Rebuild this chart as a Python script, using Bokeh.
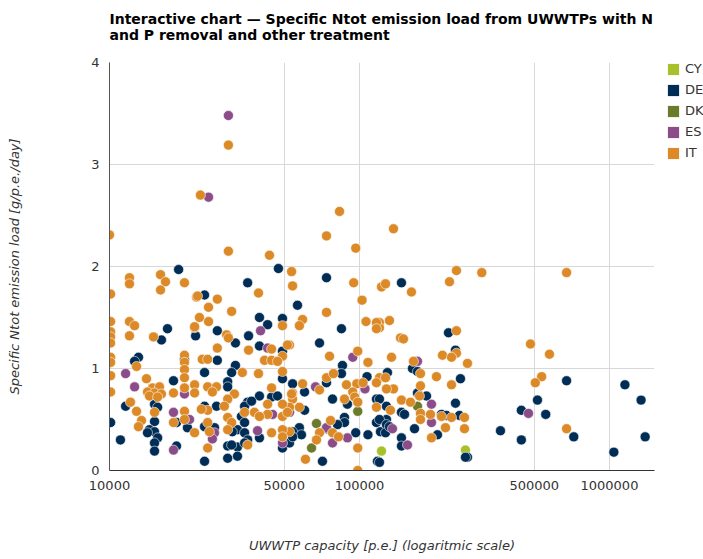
from bokeh.plotting import figure
from bokeh.models import FixedTicker, NumeralTickFormatter, Range1d, Legend, LegendItem, Title
from bokeh.embed import file_html
from bokeh.resources import INLINE

# ---------------- data ----------------
countries = ["CY", "DE", "DK", "ES", "IT"]
country_colors = ["#a8c02c", "#002d55", "#6b7a2b", "#8a4d89", "#dc8a28"]

x_ticks = [10000, 50000, 100000, 500000, 1000000]
y_ticks = [0, 1, 2, 3, 4]

cy_capacity = [122500, 265400]
cy_load = [0.19, 0.20]

dk_capacity = [98400, 67300, 64300, 170600]
dk_load = [0.58, 0.46, 0.22, 0.63]

es_capacity = [29900, 24900, 40200, 42900, 11600, 12600, 19950, 18030, 20900, 18030,
               44900, 26300, 25800, 39100, 49200, 52500, 66700, 94000, 105200, 73800,
               78000, 89500, 170600, 194100, 194100, 135500, 155600, 474200]
es_load = [3.48, 2.68, 1.37, 1.20, 0.95, 0.82, 0.75, 0.57, 0.50, 0.20,
           0.55, 0.37, 0.31, 0.39, 0.27, 0.57, 0.82, 1.11, 0.80, 0.42,
           0.27, 0.32, 1.07, 0.65, 0.47, 0.41, 0.25, 0.56]

de_capacity = [18900, 47400, 73800, 35700, 147200, 56500, 24000, 39800, 42900, 49200,
               27000, 31900, 36000, 39800, 49200, 27000, 31900, 30800, 24000, 49200,
               29700, 29700, 39800, 44500, 47000, 35700, 34700, 37000, 26800, 24000,
               33700, 34700, 32500, 24000, 26300, 31000, 34700, 35700, 39800, 49200,
               29700, 32500, 30800, 34700, 29700, 32500, 24000,
               17060, 16140, 22100, 13060, 12600, 19950, 18030, 11600, 15140, 15580,
               18540, 10100, 15140, 14450, 15140, 14190, 20500, 15580, 15140, 15140,
               18540, 11060,
               84700, 69200, 85500, 84700, 73800, 54000, 107200, 60300, 78000, 89500,
               116900, 128200, 60300, 87100, 87100, 81700, 73800, 57500, 54000, 58600,
               96600, 108100, 116900, 121300, 128200, 71100, 118000, 52500, 54000,
               227000, 242100, 162900, 170600, 129400, 253500, 673600, 1153000, 1338000, 515200,
               444100, 555900, 366400, 444100, 719800, 1389000, 1041000, 270400, 265400, 120200,
               170600, 185400, 242100, 147200, 151400, 212800, 222900, 251200, 205100, 120200,
               128200, 127100, 166000, 147200, 147200, 120200, 131800]
de_load = [1.97, 1.98, 1.89, 1.84, 1.84, 1.62, 1.72, 1.50, 1.43, 1.49,
           1.37, 1.25, 1.32, 1.22, 1.17, 1.08, 1.03, 0.96, 0.96, 0.90,
           0.87, 0.82, 0.73, 0.72, 0.73, 0.67, 0.63, 0.68, 0.63, 0.63,
           0.53, 0.47, 0.40, 0.43, 0.42, 0.38, 0.37, 0.30, 0.32, 0.22,
           0.24, 0.23, 0.25, 0.27, 0.12, 0.14, 0.09,
           1.39, 1.28, 1.32, 1.11, 1.07, 1.09, 0.88, 0.63, 0.65, 0.62,
           0.47, 0.47, 0.48, 0.40, 0.38, 0.37, 0.42, 0.32, 0.27, 0.19,
           0.24, 0.30,
           1.39, 1.25, 1.03, 0.95, 0.86, 0.85, 0.92, 0.77, 0.70, 0.65,
           0.70, 0.63, 0.59, 0.52, 0.47, 0.45, 0.41, 0.42, 0.38, 0.35,
           0.37, 0.35, 0.47, 0.38, 0.50, 0.09, 0.09, 0.27, 0.33,
           1.35, 1.18, 1.00, 0.97, 0.96, 0.90, 0.88, 0.84, 0.69, 0.69,
           0.59, 0.55, 0.39, 0.30, 0.33, 0.33, 0.18, 0.13, 0.13, 0.08,
           0.76, 0.73, 0.66, 0.57, 0.55, 0.55, 0.54, 0.54, 0.35, 0.50,
           0.45, 0.37, 0.41, 0.32, 0.24, 0.70, 0.43]

it_capacity = [29900, 23100, 10000, 29900, 73800, 83200, 96600, 136800, 43650, 53500,
               16000, 16750, 16000, 12020, 12020, 19950, 10100, 22300, 54000, 94800,
               122500, 127100, 102400, 39450, 244300, 308500, 673600, 229100, 161400, 131800,
               120200, 120200, 244300, 145900, 150000, 244300, 214800, 233400, 270400, 134300,
               164400, 483100, 575400, 535400, 505000, 673600, 233400, 203200, 120200, 127100,
               175400, 175400, 173800, 136800, 128200, 147200, 159900, 133000, 175400, 175400,
               192300, 212800, 233400, 263000, 220800, 263000, 194100,
               59200, 57500, 106200, 116900, 116900, 73800, 52500, 75900, 98400, 108100,
               73800, 78700, 59200, 69200, 88700, 97500, 103300, 116900, 54000, 54000,
               94000, 87100, 95700, 98400, 116900, 57500, 52500, 76600, 52500, 69200,
               67300, 78000, 82400, 60800, 98400, 98400,
               22500, 27000, 24900, 30800, 22900, 24900, 49200, 21900, 29400, 29900,
               36000, 44500, 51500, 27000, 49200, 23500, 24700, 41700, 44500, 47000,
               34000, 39450, 49200, 21900, 21900, 24700, 26800, 25800, 31600, 29700,
               28800, 44500, 53500, 24700, 23300, 42900, 42900, 49200, 49200, 51500,
               34700, 38000, 39800, 29700, 30800, 29700, 24700, 25100, 44500, 49200,
               49200, 35700, 24700,
               10100, 10100, 10100, 10100, 12020, 12600, 12020, 15000, 21900, 10100,
               10100, 10100, 10100, 12830, 19950, 19950, 19950, 19950, 19950, 14060,
               14870, 15850, 14190, 15140, 16140, 14450, 15580, 18030, 12130, 12830,
               15140, 19950, 19950, 18030, 13430, 13060, 21900]
it_load = [3.19, 2.70, 2.31, 2.15, 2.30, 2.54, 2.18, 2.37, 2.11, 1.95,
           1.92, 1.85, 1.77, 1.89, 1.83, 1.84, 1.73, 1.70, 1.81, 1.84,
           1.80, 1.83, 1.67, 1.74, 1.96, 1.94, 1.94, 1.85, 1.75, 1.47,
           1.45, 1.40, 1.37, 1.30, 1.29, 1.15, 1.13, 1.11, 1.05, 1.11,
           1.07, 1.24, 1.14, 0.92, 0.86, 0.41, 0.84, 0.92, 0.91, 0.91,
           0.95, 0.83, 0.73, 0.80, 0.80, 0.69, 0.67, 0.59, 0.56, 0.50,
           0.55, 0.53, 0.52, 0.52, 0.42, 0.41, 0.32,
           1.48, 1.42, 1.46, 1.45, 1.39, 1.55, 1.23, 1.12, 1.17, 1.06,
           0.91, 0.95, 0.85, 0.79, 0.84, 0.85, 0.86, 0.86, 0.76, 0.70,
           0.77, 0.70, 0.72, 0.67, 0.62, 0.62, 0.62, 0.49, 0.38, 0.37,
           0.30, 0.37, 0.33, 0.11, 0.22, 0.00,
           1.71, 1.68, 1.60, 1.56, 1.50, 1.46, 1.42, 1.40, 1.33, 1.30,
           1.18, 1.19, 1.23, 1.20, 1.12, 1.09, 1.09, 1.08, 1.08, 1.07,
           0.96, 0.95, 0.97, 0.84, 0.76, 0.82, 0.82, 0.77, 0.75, 0.70,
           0.63, 0.81, 0.75, 0.59, 0.60, 0.65, 0.55, 0.65, 0.53, 0.57,
           0.57, 0.57, 0.53, 0.52, 0.47, 0.40, 0.47, 0.38, 0.37, 0.40,
           0.33, 0.25, 0.22,
           1.46, 1.36, 1.31, 1.25, 1.46, 1.42, 1.32, 1.31, 1.41, 1.11,
           1.06, 0.93, 0.77, 1.02, 1.13, 1.06, 0.99, 0.91, 0.81, 0.90,
           0.81, 0.82, 0.77, 0.76, 0.75, 0.73, 0.72, 0.76, 0.67, 0.58,
           0.57, 0.58, 0.50, 0.47, 0.49, 0.43, 0.37]

series_capacity = [cy_capacity, de_capacity, dk_capacity, es_capacity, it_capacity]
series_load = [cy_load, de_load, dk_load, es_load, it_load]

title_text = ("Interactive chart \u2014 Specific Ntot emission load from UWWTPs with N\n"
              "and P removal and other treatment")
x_label = "UWWTP capacity [p.e.] (logaritmic scale)"
y_label = "Specific Ntot emission load [g/p.e./day]"

# ---------------- figure ----------------
FONT = "DejaVu Sans"
TXT = "#333333"

p = figure(x_axis_type="log",
           x_range=Range1d(10000, 1514000), y_range=Range1d(0, 4),
           frame_width=545, frame_height=408,
           min_border_left=109, min_border_right=48,
           min_border_top=62, min_border_bottom=85,
           output_backend="svg", toolbar_location=None)

p.title.text = title_text
p.title.text_font = FONT
p.title.text_font_size = "14px"
p.title.text_font_style = "bold"
p.title.text_color = "#000000"
p.title.align = "left"
p.title.standoff = 16

# empty spacer between title and plot area
p.add_layout(Title(text=" ", text_font_size="1px", standoff=9), "above")

p.outline_line_color = None
p.background_fill_color = "white"
p.border_fill_color = "white"

p.xaxis.ticker = FixedTicker(ticks=x_ticks)
p.xaxis.formatter = NumeralTickFormatter(format="0")
p.yaxis.ticker = FixedTicker(ticks=y_ticks)

for ax in (p.xaxis, p.yaxis):
    ax.major_tick_line_color = None
    ax.minor_tick_line_color = None
    ax.major_tick_out = 0
    ax.major_tick_in = 0
    ax.minor_tick_out = 0
    ax.major_label_text_font = FONT
    ax.major_label_text_font_size = "13px"
    ax.major_label_text_color = TXT
    ax.major_label_standoff = 10
    ax.axis_label_text_font = FONT
    ax.axis_label_text_font_size = "13px"
    ax.axis_label_text_font_style = "italic"
    ax.axis_label_text_color = TXT

p.xaxis.axis_line_color = "#333333"
p.yaxis.axis_line_color = "#555555"
p.xaxis.axis_label = x_label
p.yaxis.axis_label = y_label
p.xaxis.axis_label_standoff = 45
p.yaxis.axis_label_standoff = 66

p.xgrid.grid_line_color = "#d8d8d8"
p.ygrid.grid_line_color = "#d8d8d8"
p.xgrid.grid_line_width = 1
p.ygrid.grid_line_width = 1

# points
for xs, ys, col in zip(series_capacity, series_load, country_colors):
    p.scatter(x=xs, y=ys, size=10, marker="circle", fill_color=col,
              line_color="white", line_width=0.8, line_alpha=0.7)

# legend with square swatches (zero-area quads on each series' first point)
items = []
for name, xs, ys, col in zip(countries, series_capacity, series_load, country_colors):
    r = p.quad(left=xs[:1], right=xs[:1], bottom=ys[:1], top=ys[:1],
               fill_color=col, line_color=None)
    items.append(LegendItem(label=name, renderers=[r]))

legend = Legend(items=items, location=(12, 310),
                glyph_width=14, glyph_height=14, label_height=14,
                spacing=6, padding=0, margin=0, label_standoff=5,
                label_text_font=FONT, label_text_font_size="13px",
                label_text_color=TXT, border_line_color=None,
                background_fill_alpha=0)
p.add_layout(legend, "right")

open("out.html", "w").write(file_html(p, INLINE))
